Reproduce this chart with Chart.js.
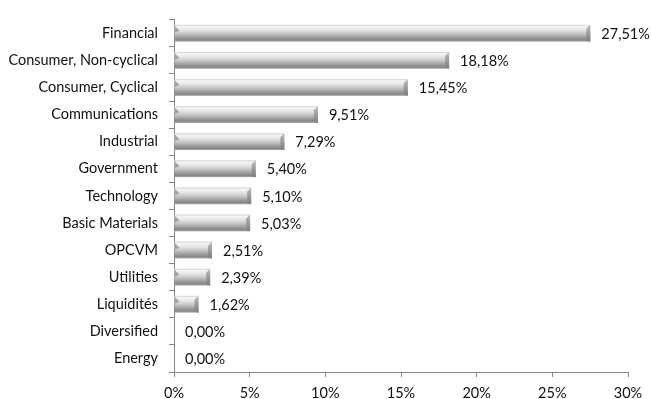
<!DOCTYPE html>
<html>
<head>
<meta charset="utf-8">
<script src="https://cdn.jsdelivr.net/npm/chart.js@4"></script>
<style>
  body { margin: 0; background: #fff; }
  canvas { display: block; }
</style>
</head>
<body>
<canvas id="sectorChart" width="651" height="399"></canvas>
<script>
const sectors = [
  'Financial', 'Consumer, Non-cyclical', 'Consumer, Cyclical', 'Communications',
  'Industrial', 'Government', 'Technology', 'Basic Materials', 'OPCVM',
  'Utilities', 'Liquidités', 'Diversified', 'Energy'
];
const weights = [27.51, 18.18, 15.45, 9.51, 7.29, 5.40, 5.10, 5.03, 2.51, 2.39, 1.62, 0.00, 0.00];
const xMax = 30;
const xStep = 5;

const BAR_PCT = 0.62;
const FONT = { family: 'Lato', size: 14.5 };
const TEXT = '#111';
const AXIS = '#868686';

const fmtPct = v => v.toFixed(2).replace('.', ',') + '%';

// metal-like shading with bevelled ends, painted over each bar element + value labels
const bevelBars = {
  id: 'bevelBars',
  afterDatasetsDraw(chart) {
    const ctx = chart.ctx;
    ctx.save();
    chart.getDatasetMeta(0).data.forEach((bar, i) => {
      const x0 = bar.base, x1 = bar.x;
      const h = bar.height;
      const y0 = bar.y - h / 2, y1 = bar.y + h / 2;
      const w = x1 - x0;
      if (w > 1) {
        const body = ctx.createLinearGradient(0, y0, 0, y1);
        body.addColorStop(0, '#cdcdcd');
        body.addColorStop(0.1, '#f5f5f5');
        body.addColorStop(0.3, '#e6e6e6');
        body.addColorStop(0.55, '#c2c2c2');
        body.addColorStop(0.78, '#979797');
        body.addColorStop(0.9, '#888');
        body.addColorStop(1, '#a9a9a9');
        ctx.fillStyle = body;
        ctx.fillRect(x0, y0, w, h);

        const e = Math.min(4, w / 2);
        const cap = ctx.createLinearGradient(0, y0, 0, y1);
        cap.addColorStop(0, '#bcbcbc');
        cap.addColorStop(1, '#7c7c7c');
        ctx.fillStyle = cap;
        ctx.beginPath();
        ctx.moveTo(x1 - e, y0 + e);
        ctx.lineTo(x1, y0);
        ctx.lineTo(x1, y1);
        ctx.lineTo(x1 - e, y1 - 1);
        ctx.closePath();
        ctx.fill();

        ctx.fillStyle = '#a3a3a3';
        ctx.beginPath();
        ctx.moveTo(x0, y0 + 1);
        ctx.lineTo(x0 + Math.min(5, w / 2), y0 + 6);
        ctx.lineTo(x0, y0 + 8);
        ctx.closePath();
        ctx.fill();
      }
      ctx.fillStyle = TEXT;
      ctx.font = `${FONT.size}px ${FONT.family}`;
      ctx.textAlign = 'left';
      ctx.textBaseline = 'middle';
      ctx.fillText(fmtPct(weights[i]), x1 + 11, bar.y + 1);
    });
    ctx.restore();
  }
};

new Chart(document.getElementById('sectorChart'), {
  type: 'bar',
  data: {
    labels: sectors,
    datasets: [{
      data: weights,
      backgroundColor: 'rgba(0,0,0,0)',
      borderWidth: 0,
      barPercentage: BAR_PCT,
      categoryPercentage: 1
    }]
  },
  options: {
    indexAxis: 'y',
    responsive: false,
    animation: false,
    layout: { padding: { top: 14, right: 23, left: 0, bottom: 0 } },
    plugins: {
      legend: { display: false },
      tooltip: { enabled: false }
    },
    scales: {
      x: {
        min: 0,
        max: xMax,
        ticks: {
          stepSize: xStep,
          color: TEXT,
          font: FONT,
          padding: 8,
          maxRotation: 0,
          callback: v => v + '%'
        },
        grid: { drawOnChartArea: false, tickLength: 5, color: AXIS },
        border: { color: AXIS },
        afterFit: s => { s.height = 27; }
      },
      y: {
        ticks: { color: TEXT, font: FONT, padding: 11, autoSkip: false },
        grid: { drawOnChartArea: false, tickLength: 5, color: AXIS, offset: true },
        border: { color: AXIS },
        afterFit: s => { s.width = 174; }
      }
    }
  },
  plugins: [bevelBars]
});
</script>
</body>
</html>
